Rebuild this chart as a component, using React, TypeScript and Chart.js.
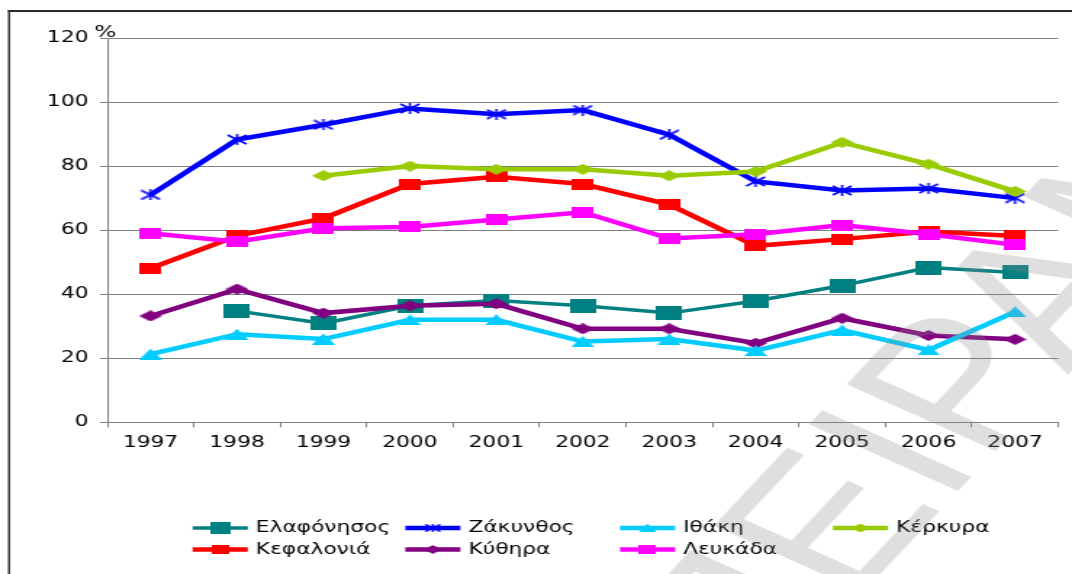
import React, { useEffect, useRef } from "react";
import { Chart, registerables } from "chart.js";

Chart.register(...registerables);

// ---------- data ----------
const years = ["1997", "1998", "1999", "2000", "2001", "2002", "2003", "2004", "2005", "2006", "2007"];

const elafonisos = [null, 34.8, 30.9, 36.4, 38.0, 36.4, 34.1, 37.9, 42.7, 48.3, 46.8];
const zakynthos = [71.0, 88.3, 92.9, 98.0, 96.2, 97.5, 89.8, 75.2, 72.4, 73.0, 70.0];
const ithaki = [21.3, 27.5, 26.0, 32.0, 32.0, 25.2, 26.0, 22.4, 28.8, 22.6, 34.5];
const kerkyra = [null, null, 77.0, 80.0, 79.0, 79.0, 77.0, 78.3, 87.4, 80.6, 72.1];
const kefalonia = [48.1, 58.2, 63.7, 74.4, 76.7, 74.4, 68.0, 55.1, 57.2, 59.6, 58.2];
const kythira = [33.2, 41.6, 34.1, 36.4, 37.0, 29.2, 29.2, 24.7, 32.5, 27.1, 25.9];
const lefkada = [59.0, 56.4, 60.6, 61.0, 63.3, 65.6, 57.4, 58.7, 61.6, 58.7, 55.4];

const seriesNames = ["Ελαφόνησος", "Ζάκυνθος", "Ιθάκη", "Κέρκυρα", "Κεφαλονιά", "Κύθηρα", "Λευκάδα"];
const yMin = 0;
const yMax = 120;
const yStep = 20;
const unitLabel = "%";
const watermarkText = "ΠΕΙΡΑΜΑΤΙΚΟ";

// ---------- geometry ----------
const W = 1072;
const H = 574;
const SX = 1.45; // horizontal stretch of the picture
const IW = Math.round(W / SX);
const FONT = '"DejaVu Sans", Verdana, sans-serif';

type Kind = "square" | "bigsquare" | "diamond" | "triangle" | "star";

function makeMarker(kind: Kind, color: string): HTMLCanvasElement {
  const dims: Record<Kind, [number, number]> = {
    bigsquare: [18, 14],
    square: [15, 11],
    diamond: [16, 11],
    triangle: [16, 11],
    star: [15, 11],
  };
  const [w, h] = dims[kind];
  const c = document.createElement("canvas");
  c.width = w;
  c.height = h;
  const g = c.getContext("2d")!;
  g.fillStyle = color;
  g.strokeStyle = color;
  if (kind === "square" || kind === "bigsquare") {
    g.fillRect(0, 0, w, h);
  } else if (kind === "diamond") {
    g.beginPath();
    g.moveTo(w / 2, 0);
    g.lineTo(w, h / 2);
    g.lineTo(w / 2, h);
    g.lineTo(0, h / 2);
    g.closePath();
    g.fill();
  } else if (kind === "triangle") {
    g.beginPath();
    g.moveTo(w / 2, 0);
    g.lineTo(w, h);
    g.lineTo(0, h);
    g.closePath();
    g.fill();
  } else {
    g.lineWidth = 1.6;
    g.beginPath();
    g.moveTo(1, 1);
    g.lineTo(w - 1, h - 1);
    g.moveTo(w - 1, 1);
    g.lineTo(1, h - 1);
    g.moveTo(w / 2, 0);
    g.lineTo(w / 2, h);
    g.stroke();
  }
  return c;
}

export default function App() {
  const ref = useRef<HTMLCanvasElement>(null);

  useEffect(() => {
    const canvas = ref.current;
    if (!canvas) return;

    const styles: { color: string; kind: Kind; width: number; order: number }[] = [
      { color: "#008080", kind: "bigsquare", width: 3.5, order: 3 },
      { color: "#0000ff", kind: "star", width: 4.5, order: 2 },
      { color: "#00ccff", kind: "triangle", width: 4.5, order: 1 },
      { color: "#99cc00", kind: "diamond", width: 4.5, order: 1 },
      { color: "#ff0000", kind: "square", width: 4.5, order: 2 },
      { color: "#800080", kind: "diamond", width: 4.5, order: 2 },
      { color: "#ff00ff", kind: "square", width: 4.5, order: 1 },
    ];
    const values = [elafonisos, zakynthos, ithaki, kerkyra, kefalonia, kythira, lefkada];

    const datasets = values.map((v, i) => {
      const img = makeMarker(styles[i].kind, styles[i].color);
      return {
        label: seriesNames[i],
        data: v,
        borderColor: styles[i].color,
        backgroundColor: styles[i].color,
        borderWidth: styles[i].width,
        pointStyle: img as any,
        pointRadius: 5,
        pointHoverRadius: 5,
        tension: 0,
        spanGaps: false,
        order: styles[i].order,
        clip: false as any,
      };
    });

    const framePlugin = {
      id: "frame",
      beforeDraw(chart: any) {
        const ctx = chart.ctx;
        ctx.save();
        ctx.fillStyle = "#fff";
        ctx.fillRect(0, 0, chart.width, chart.height);
        ctx.fillStyle = "#2a2a2a";
        ctx.fillRect(9 / SX - 0.7, 10, chart.width, 2);
        ctx.fillRect(9 / SX - 0.7, 10, 1.4, chart.height);
        ctx.restore();
      },
    };

    const unitPlugin = {
      id: "unit",
      afterDraw(chart: any) {
        const ctx = chart.ctx;
        const a = chart.chartArea;
        ctx.save();
        ctx.font = `16px ${FONT}`;
        ctx.fillStyle = "#000";
        ctx.textAlign = "center";
        ctx.textBaseline = "alphabetic";
        ctx.fillText(unitLabel, a.left - 1.5, a.top - 1);
        ctx.restore();
      },
    };

    const legendPlugin = {
      id: "gridLegend",
      afterDraw(chart: any) {
        const ctx = chart.ctx;
        const cols = [132.8, 279.4, 427.4, 574.2];
        const rows = [528, 549.5];
        const lineLen = 38;
        ctx.save();
        ctx.font = `15px ${FONT}`;
        ctx.textBaseline = "middle";
        ctx.textAlign = "left";
        chart.data.datasets.forEach((ds: any, i: number) => {
          const col = i < 4 ? i : i - 4;
          const row = i < 4 ? 0 : 1;
          const x = cols[col];
          const y = rows[row];
          ctx.strokeStyle = ds.borderColor;
          ctx.lineWidth = ds.borderWidth;
          ctx.beginPath();
          ctx.moveTo(x, y);
          ctx.lineTo(x + lineLen, y);
          ctx.stroke();
          const img = ds.pointStyle as HTMLCanvasElement;
          const s = 0.8;
          ctx.drawImage(img, x + lineLen / 2 - (img.width * s) / 2, y - (img.height * s) / 2, img.width * s, img.height * s);
          ctx.fillStyle = "#000";
          ctx.fillText(ds.label, x + lineLen + 5.5, y + 0.5);
        });
        ctx.restore();
      },
    };

    const watermarkPlugin = {
      id: "watermark",
      afterDraw(chart: any) {
        const ctx = chart.ctx;
        const ang = (-57 * Math.PI) / 180;
        const size = 178;
        const ex = 578;
        const ey = 528;
        const off = (0.722 + 0.333) * size;
        const sx = ex - Math.cos(ang) * off;
        const sy = ey - Math.sin(ang) * off;
        ctx.save();
        ctx.translate(sx, sy);
        ctx.rotate(ang);
        ctx.font = `${size}px "Liberation Sans", Arial, sans-serif`;
        ctx.fillStyle = "rgba(140,140,140,0.28)";
        ctx.textBaseline = "middle";
        ctx.textAlign = "left";
        ctx.fillText(watermarkText, 0, 0);
        ctx.restore();
      },
    };

    const chart = new Chart(canvas, {
      type: "line",
      data: { labels: years, datasets: datasets as any },
      options: {
        responsive: false,
        animation: false,
        devicePixelRatio: 1,
        events: [],
        layout: { padding: { left: 0, right: IW - 735, top: 38, bottom: 0 } },
        plugins: {
          legend: { display: false },
          tooltip: { enabled: false },
        },
        scales: {
          x: {
            type: "category",
            offset: true,
            grid: {
              display: true,
              drawOnChartArea: false,
              drawTicks: true,
              tickLength: 5,
              offset: true,
              color: "#808080",
              lineWidth: 1,
            },
            border: { display: true, color: "#808080", width: 1 },
            ticks: {
              font: { family: FONT, size: 15 },
              color: "#000",
              padding: 7,
              maxRotation: 0,
              autoSkip: false,
            },
            afterFit: (s: any) => {
              s.height = H - 422.3;
            },
          },
          y: {
            min: yMin,
            max: yMax,
            ticks: {
              stepSize: yStep,
              font: { family: FONT, size: 15 },
              color: "#000",
              padding: 8,
            },
            grid: { color: "#808080", lineWidth: 1, tickLength: 5, drawTicks: true },
            border: { display: true, color: "#808080", width: 1 },
            afterFit: (s: any) => {
              s.width = 74;
            },
          },
        },
      },
      plugins: [framePlugin, unitPlugin, legendPlugin, watermarkPlugin],
    });

    return () => chart.destroy();
  }, []);

  return (
    <div style={{ position: "fixed", left: 0, top: 0, width: W, height: H, background: "#fff" }}>
      <canvas
        ref={ref}
        width={IW}
        height={H}
        style={{ width: `${W}px`, height: `${H}px`, display: "block" }}
      />
    </div>
  );
}
